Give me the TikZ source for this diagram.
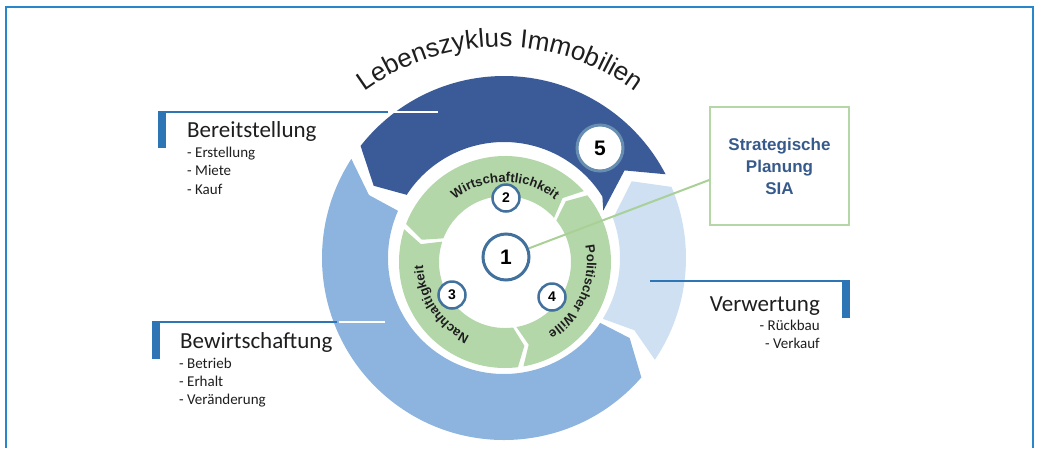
\documentclass[tikz,border=0pt]{standalone}
\usepackage{fontspec}
\setsansfont{Liberation Sans}
\newfontfamily\calibrifont{Carlito}
\usetikzlibrary{decorations.text}

\definecolor{frameblue}{RGB}{40,135,200}
\definecolor{segdark}{RGB}{58,91,152}
\definecolor{segmid}{RGB}{141,180,222}
\definecolor{seglight}{RGB}{206,224,242}
\definecolor{seggreen}{RGB}{180,215,170}
\definecolor{numblue}{RGB}{65,113,156}
\definecolor{barblue}{RGB}{46,117,182}
\definecolor{siagreen}{RGB}{181,215,168}
\definecolor{siatext}{RGB}{55,90,140}
\definecolor{linkgreen}{RGB}{169,208,150}
\definecolor{txtdark}{RGB}{30,30,30}

\tikzset{
  numcircle/.style={circle, draw=numblue, line width=2.5pt, fill=white, inner sep=0pt,
    minimum size=27pt, font=\sffamily\bfseries\fontsize{14}{14}\selectfont},
  bignum/.style={numcircle, line width=3pt, minimum size=46pt,
    font=\sffamily\bfseries\fontsize{21}{21}\selectfont},
  headtext/.style={inner sep=0pt, text=txtdark, font=\calibrifont\fontsize{23}{23}\selectfont},
  itemtext/.style={inner sep=0pt, text=txtdark, font=\calibrifont\fontsize{15}{15}\selectfont},
  labelbar/.style={fill=barblue},
  labelline/.style={draw=barblue, line width=2pt},
  ringtext/.style={decorate, decoration={text along path, text align=center, text color=txtdark,
    text={|\sffamily\bfseries\fontsize{13}{13}\selectfont|#1}}},
}

% one green arrow of the inner ring, from angle #1 to angle #2
\newcommand{\greenseg}[2]{%
  \fill[seggreen] (#2:106) arc[start angle=#2, end angle=#1, radius=106] -- ({#1+6}:86)
    -- (#1:66) arc[start angle=#1, end angle=#2, radius=66] -- ({#2+6}:86) -- cycle;}

\begin{document}
\begin{tikzpicture}[x=1pt, y=1pt]
  \useasboundingbox (0,0) rectangle (1039,-448);
  \draw[frameblue, line width=2pt] (6,-448) -- (6,-7) -- (1033,-7) -- (1033,-448);

  % outer ring
  \begin{scope}[shift={(504,-258)}]
    \fill[segdark] (142:182) arc[start angle=142, end angle=27.4, radius=182] -- (36:149)
      -- (25.5:110) -- (32:116) arc[start angle=32, end angle=147, radius=116] -- (151:149) -- cycle;
    \fill[seglight] (23:182) arc[start angle=23, end angle=-34, radius=182] -- (-29:149)
      -- (-31.6:116) arc[start angle=-31.6, end angle=20, radius=116] -- (31:149) -- cycle;
    \fill[segmid] (-41:182) arc[start angle=-41, end angle=-213, radius=182] -- (-205:149)
      -- (-204:116) arc[start angle=-204, end angle=-34, radius=116] -- (-32.5:149) -- cycle;
  \end{scope}

  % title
  \begin{scope}[shift={(500,-276)}]
    \path[decorate, decoration={text along path, text align=center, text color=txtdark,
      text={|\sffamily\fontsize{26}{26}\selectfont|Lebenszyklus Immobilien}}]
      (150:229) arc[start angle=150, end angle=30, radius=229];
  \end{scope}

  % inner ring
  \begin{scope}[shift={(505,-262)}]
    \greenseg{-80}{39}
    \greenseg{42}{159}
    \greenseg{162}{277}
    \path[ringtext=Wirtschaftlichkeit] (150:80) arc[start angle=150, end angle=30, radius=80];
    \path[ringtext=Politischer Wille] (36.5:82) arc[start angle=36.5, end angle=-83.5, radius=82];
    \path[ringtext=Nachhaltigkeit] (273.5:82) arc[start angle=273.5, end angle=153.5, radius=82];
  \end{scope}

  % Bereitstellung
  \fill[labelbar] (158,-112) rectangle (166,-148);
  \draw[labelline] (158,-112) -- (388,-112);
  \draw[white, line width=2pt] (392,-112) -- (438,-112);
  \node[headtext, anchor=base west] (bereit) at (187,-137) {Bereitstellung};
  \node[itemtext, anchor=base west] (bereit1) at (187,-157) {- Erstellung};
  \node[itemtext, anchor=base west] (bereit2) at (187,-175.5) {- Miete};
  \node[itemtext, anchor=base west] (bereit3) at (187,-194) {- Kauf};

  % Bewirtschaftung
  \fill[labelbar] (152,-322) rectangle (160,-359);
  \draw[labelline] (152,-322) -- (337,-322);
  \draw[white, line width=2pt] (339,-322) -- (385,-322);
  \node[headtext, anchor=base west] (bewirt) at (180,-348) {Bewirtschaftung};
  \node[itemtext, anchor=base west] (bewirt1) at (179,-368) {- Betrieb};
  \node[itemtext, anchor=base west] (bewirt2) at (179,-386) {- Erhalt};
  \node[itemtext, anchor=base west] (bewirt3) at (179,-404) {- Veränderung};

  % Verwertung
  \fill[labelbar] (842,-280) rectangle (850,-318);
  \draw[labelline] (650,-281) -- (850,-281);
  \node[headtext, anchor=base east] (verw) at (820,-311.5) {Verwertung};
  \node[itemtext, anchor=base east] (verw1) at (820,-330) {- Rückbau};
  \node[itemtext, anchor=base east] (verw2) at (820,-348) {- Verkauf};

  % numbers
  \node[bignum] (c1) at (506,-257) {1};
  \node[numcircle] (c2) at (506,-198) {2};
  \node[numcircle] (c3) at (452,-295) {3};
  \node[numcircle] (c4) at (552,-297) {4};
  \node[bignum, draw=numblue!80!white] (c5) at (600,-148) {5};

  % strategic planning
  \node[draw=siagreen, line width=1.5pt, minimum width=139pt, minimum height=118pt,
    align=center, text=siatext, font=\sffamily\bfseries\fontsize{17}{22}\selectfont]
    (sia) at (779.5,-166) {Strategische\\Planung\\SIA};
  \draw[linkgreen, line width=2pt] (c1) -- ([yshift=-14pt]sia.west);
\end{tikzpicture}
\end{document}
